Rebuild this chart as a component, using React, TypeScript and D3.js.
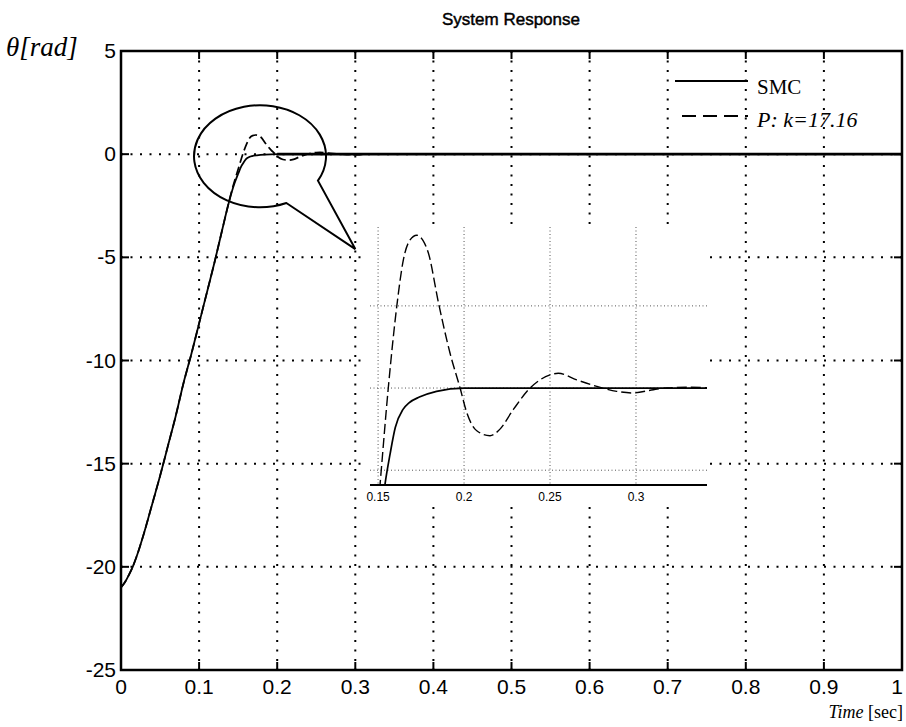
import React from "react";
import * as d3 from "d3";

// ---- data ----
const smcT = [0, 0.005, 0.01, 0.015, 0.02, 0.03, 0.04, 0.05, 0.06, 0.07, 0.08, 0.09, 0.1, 0.11, 0.12, 0.13, 0.137, 0.145, 0.15, 0.1541, 0.157, 0.16, 0.1645, 0.168, 0.174, 0.184, 0.2, 0.25, 0.3, 0.35, 0.4, 0.5, 0.6, 0.7, 0.8, 0.9, 1.0];
const smcV = [-21.0, -20.75, -20.4, -20.0, -19.5, -18.3, -16.95, -15.6, -14.15, -12.7, -11.1, -9.7, -8.2, -6.7, -5.2, -3.6, -2.5, -1.45, -0.95, -0.58, -0.4, -0.24, -0.13, -0.09, -0.055, -0.02, 0, 0, 0, 0, 0, 0, 0, 0, 0, 0, 0];

const pT = [0, 0.005, 0.01, 0.015, 0.02, 0.03, 0.04, 0.05, 0.06, 0.07, 0.08, 0.09, 0.1, 0.11, 0.12, 0.13, 0.137, 0.142, 0.147, 0.1512, 0.156, 0.1609, 0.1647, 0.1685, 0.1725, 0.176, 0.1793, 0.1851, 0.1919, 0.1977, 0.2016, 0.2074, 0.2151, 0.2209, 0.2287, 0.2384, 0.25, 0.2548, 0.2655, 0.2772, 0.2888, 0.2984, 0.3101, 0.3178, 0.33, 0.35, 0.4, 0.5, 0.6, 0.7, 0.8, 0.9, 1.0];
const pV = [-21.0, -20.75, -20.4, -20.0, -19.5, -18.3, -16.95, -15.6, -14.15, -12.7, -11.1, -9.7, -8.2, -6.7, -5.2, -3.6, -2.5, -1.75, -1.1, -0.58, 0.008, 0.5, 0.78, 0.9, 0.93, 0.9, 0.82, 0.52, 0.21, 0.0, -0.15, -0.26, -0.29, -0.25, -0.13, 0.0, 0.08, 0.09, 0.05, 0.01, -0.02, -0.03, -0.01, 0.0, 0.005, 0, 0, 0, 0, 0, 0, 0, 0];

const xTicks = [0, 0.1, 0.2, 0.3, 0.4, 0.5, 0.6, 0.7, 0.8, 0.9, 1];
const xTickLabels = ["0", "0.1", "0.2", "0.3", "0.4", "0.5", "0.6", "0.7", "0.8", "0.9", "1"];
const yTicks = [5, 0, -5, -10, -15, -20, -25];
const yTickLabels = ["5", "0", "-5", "-10", "-15", "-20", "-25"];

const insetXTicks = [0.15, 0.2, 0.25, 0.3];
const insetXTickLabels = ["0.15", "0.2", "0.25", "0.3"];
const insetYGrid = [0.5, 0, -0.5];

const seriesNames = ["SMC", "P: k=17.16"];
const titleText = "System Response";

// ---- layout ----
const W = 906;
const H = 727;
const x = d3.scaleLinear().domain([0, 1]).range([121, 902]);
const y = d3.scaleLinear().domain([-25, 5]).range([670, 51]);

const ix = d3.scaleLinear().domain([0.1453, 0.3413]).range([370, 707]);
const iy = d3.scaleLinear().domain([-0.59, 0.98]).range([485, 227]);

const smc = smcT.map((t, i) => [t, smcV[i]] as [number, number]);
const pp = pT.map((t, i) => [t, pV[i]] as [number, number]);

const mainLine = d3
  .line<[number, number]>()
  .x((d) => x(d[0]))
  .y((d) => y(d[1]))
  .curve(d3.curveMonotoneX);
const insetLine = d3
  .line<[number, number]>()
  .x((d) => ix(d[0]))
  .y((d) => iy(d[1]))
  .curve(d3.curveMonotoneX);

const sans = "Arial, 'Liberation Sans', sans-serif";
const serif = "'Times New Roman', 'Liberation Serif', serif";

export default function App() {
  const x0 = x.range()[0];
  const x1 = x.range()[1];
  const yTop = y.range()[1];
  const yBot = y.range()[0];

  // callout (ellipse + tail) in data coordinates
  const cx = x(0.178);
  const cy = y(-0.1);
  const rx = 66;
  const ry = 51;
  const angA = 0.5;
  const angB = 1.16;
  const ax = cx + rx * Math.cos(angA);
  const ay = cy + ry * Math.sin(angA);
  const bx = cx + rx * Math.cos(angB);
  const by = cy + ry * Math.sin(angB);
  const tipX = x(0.3);
  const tipY = y(-4.6);
  const calloutPath = `M${ax},${ay} A${rx},${ry} 0 1 0 ${bx},${by} L${tipX},${tipY} Z`;

  const insetLeft = 370;
  const insetRight = 707;
  const insetTop = 227;
  const insetBot = 485;

  const flat = smc.filter((d) => d[0] >= 0.2);

  return (
    <svg
      width={W}
      height={H}
      viewBox={`0 0 ${W} ${H}`}
      style={{ position: "absolute", left: 0, top: 0, background: "#fff" }}
    >
      <defs>
        <clipPath id="insetClip">
          <rect x={insetLeft} y={insetTop - 5} width={insetRight - insetLeft} height={insetBot - insetTop + 5} />
        </clipPath>
      </defs>
      <rect x={0} y={0} width={W} height={H} fill="#fff" />

      {/* title */}
      <text x={511} y={25} textAnchor="middle" fontFamily={sans} fontSize={17} fill="#000" stroke="#000" strokeWidth={0.45}>
        {titleText}
      </text>

      {/* main grid */}
      <g stroke="#000" strokeWidth={2} strokeDasharray="2 7.5" fill="none">
        {xTicks.slice(1, -1).map((t) => (
          <line key={"gx" + t} x1={x(t)} x2={x(t)} y1={yTop} y2={yBot} />
        ))}
        {yTicks.slice(1, -1).map((v) => (
          <line key={"gy" + v} x1={x0} x2={x1} y1={y(v)} y2={y(v)} />
        ))}
      </g>

      {/* main curves */}
      <path d={mainLine(smc) || ""} fill="none" stroke="#000" strokeWidth={1.8} />
      <path d={mainLine(pp) || ""} fill="none" stroke="#000" strokeWidth={1.7} strokeDasharray="9 4" />
      <path d={mainLine(flat) || ""} fill="none" stroke="#000" strokeWidth={2.8} />

      {/* callout */}
      <path d={calloutPath} fill="none" stroke="#000" strokeWidth={2} strokeLinejoin="miter" />

      {/* inset */}
      <rect x={368} y={224} width={342} height={282} fill="#fff" />
      <g stroke="#555" strokeWidth={1} strokeDasharray="1 2.5" fill="none">
        {insetXTicks.map((t) => (
          <line key={"igx" + t} x1={ix(t)} x2={ix(t)} y1={insetTop} y2={insetBot} />
        ))}
        {insetYGrid.map((v) => (
          <line key={"igy" + v} x1={insetLeft} x2={insetRight} y1={iy(v)} y2={iy(v)} />
        ))}
      </g>
      <g clipPath="url(#insetClip)">
        <path d={insetLine(smc) || ""} fill="none" stroke="#000" strokeWidth={1.7} />
        <path d={insetLine(pp) || ""} fill="none" stroke="#000" strokeWidth={1.4} strokeDasharray="10 4" />
      </g>
      <line x1={insetLeft} x2={insetRight} y1={insetBot} y2={insetBot} stroke="#000" strokeWidth={2} />
      {insetXTicks.map((t, i) => (
        <text
          key={"ixl" + t}
          x={ix(t)}
          y={insetBot + 16}
          textAnchor="middle"
          fontFamily={sans}
          fontSize={12}
          fill="#000"
        >
          {insetXTickLabels[i]}
        </text>
      ))}

      {/* axes box */}
      <rect x={x0} y={yTop} width={x1 - x0} height={yBot - yTop} fill="none" stroke="#000" strokeWidth={2.5} />
      {/* ticks */}
      <g stroke="#000" strokeWidth={2}>
        {xTicks.slice(1, -1).map((t) => (
          <g key={"tx" + t}>
            <line x1={x(t)} x2={x(t)} y1={yBot} y2={yBot - 8} />
            <line x1={x(t)} x2={x(t)} y1={yTop} y2={yTop + 8} />
          </g>
        ))}
        {yTicks.slice(1, -1).map((v) => (
          <g key={"ty" + v}>
            <line x1={x0} x2={x0 + 8} y1={y(v)} y2={y(v)} />
            <line x1={x1} x2={x1 - 8} y1={y(v)} y2={y(v)} />
          </g>
        ))}
      </g>

      {/* tick labels */}
      {xTicks.map((t, i) => (
        <text
          key={"xl" + t}
          x={Math.min(x(t), W - 9)}
          y={yBot + 24}
          textAnchor="middle"
          fontFamily={sans}
          fontSize={21}
          fill="#000"
        >
          {xTickLabels[i]}
        </text>
      ))}
      {yTicks.map((v, i) => (
        <text
          key={"yl" + v}
          x={x0 - 5}
          y={y(v) + 7}
          textAnchor="end"
          fontFamily={sans}
          fontSize={21}
          fill="#000"
        >
          {yTickLabels[i]}
        </text>
      ))}

      {/* axis labels */}
      <text x={6} y={56} fontFamily={serif} fontSize={27} fontStyle="italic" fill="#000">
        θ[rad]
      </text>
      <text x={903} y={718} textAnchor="end" fontFamily={serif} fontSize={18} fill="#000">
        <tspan fontStyle="italic">Time</tspan>
        <tspan> [sec]</tspan>
      </text>

      {/* legend */}
      <line x1={675} x2={748} y1={81} y2={81} stroke="#000" strokeWidth={2} />
      <text x={757} y={94} fontFamily={serif} fontSize={21} fill="#000">
        {seriesNames[0]}
      </text>
      <line x1={682} x2={748} y1={116} y2={116} stroke="#000" strokeWidth={2} strokeDasharray="14 7" />
      <text x={757} y={127} fontFamily={serif} fontSize={22} fontStyle="italic" fill="#000">
        {seriesNames[1]}
      </text>
    </svg>
  );
}
